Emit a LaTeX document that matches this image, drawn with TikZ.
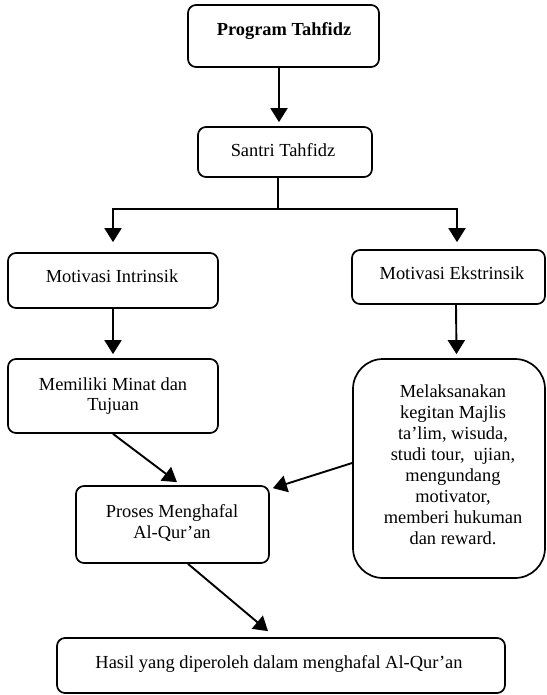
\documentclass[tikz,border=0pt]{standalone}
\usepackage{fontspec}
\setmainfont{Liberation Serif}
\usetikzlibrary{arrows.meta}
\begin{document}
\begin{tikzpicture}[x=1pt,y=-1pt,
  box/.style={draw=black, line width=1.7pt, rounded corners=8pt, inner sep=0pt, fill=white},
  txt/.style={anchor=base, inner sep=0pt, font=\fontsize{18.4}{21}\selectfont},
  arr/.style={line width=1.9pt, -{Triangle[width=17pt,length=14pt]}},
  ln/.style={line width=1.9pt}]
\useasboundingbox (0,0) rectangle (546,695);
% boxes
\node[box, minimum width=191pt, minimum height=62pt] (prog) at (283.5,36) {};
\node[box, minimum width=174pt, minimum height=50pt] (santri) at (285,152) {};
\node[box, minimum width=210pt, minimum height=55pt] (intr) at (113,280.5) {};
\node[box, minimum width=193pt, minimum height=54pt] (ekst) at (448.5,277) {};
\node[box, minimum width=210pt, minimum height=74pt] (minat) at (113,396) {};
\node[box, rounded corners=30pt, minimum width=192pt, minimum height=219pt] (melak) at (449,468.5) {};
\node[box, minimum width=193pt, minimum height=77pt] (proses) at (172.5,524.5) {};
\node[box, minimum width=448pt, minimum height=55pt] (hasil) at (281,665.5) {};
% texts
\node[txt] (tprog) at (284,36) {\textbf{Program Tahfidz}};
\node[txt] (tsantri) at (283,157) {Santri Tahfidz};
\node[txt] (tintr) at (112,282) {Motivasi Intrinsik};
\node[txt] (tekst) at (452,279) {Motivasi Ekstrinsik};
\node[txt] (tminat) at (113,390) {\begin{tabular}[t]{@{}c@{}}Memiliki Minat dan\\[-1pt] Tujuan\end{tabular}};
\node[txt] (tmelak) at (453,397) {\begin{tabular}[t]{@{}c@{}}Melaksanakan\\ kegitan Majlis\\ ta’lim, wisuda,\\ studi tour,\ \ ujian,\\ mengundang\\ motivator,\\ memberi hukuman\\ dan reward.\end{tabular}};
\node[txt] (tproses) at (172,517) {\begin{tabular}[t]{@{}c@{}}Proses Menghafal\\ Al-Qur’an\end{tabular}};
\node[txt] (thasil) at (279,668) {Hasil yang diperoleh dalam menghafal Al-Qur’an};
% connectors
\coordinate (split) at (278,209);
\draw[arr] ([xshift=-4.5pt]prog.south) -- ([xshift=-4.5pt,yshift=4pt]prog.south |- santri.north);
\draw[ln] (santri.south -| split) -- (split);
\draw[arr] (split) -| ([yshift=10pt]intr.north);
\draw[arr] (split) -| ([xshift=8.5pt,yshift=7pt]ekst.north);
\draw[arr] (intr.south) -- ([yshift=4pt]minat.north);
\draw[arr] ([xshift=7.5pt]ekst.south) -- ([xshift=7.5pt,yshift=4pt]melak.north);
\draw[arr] (minat.south) -- ([xshift=4.5pt,yshift=3pt]proses.north);
\draw[arr] ([yshift=5.5pt]melak.west) -- ([xshift=3pt,yshift=-3pt]proses.north east);
\draw[arr] ([xshift=15.5pt]proses.south) -- ([xshift=-13pt,yshift=6pt]hasil.north);
\end{tikzpicture}
\end{document}
